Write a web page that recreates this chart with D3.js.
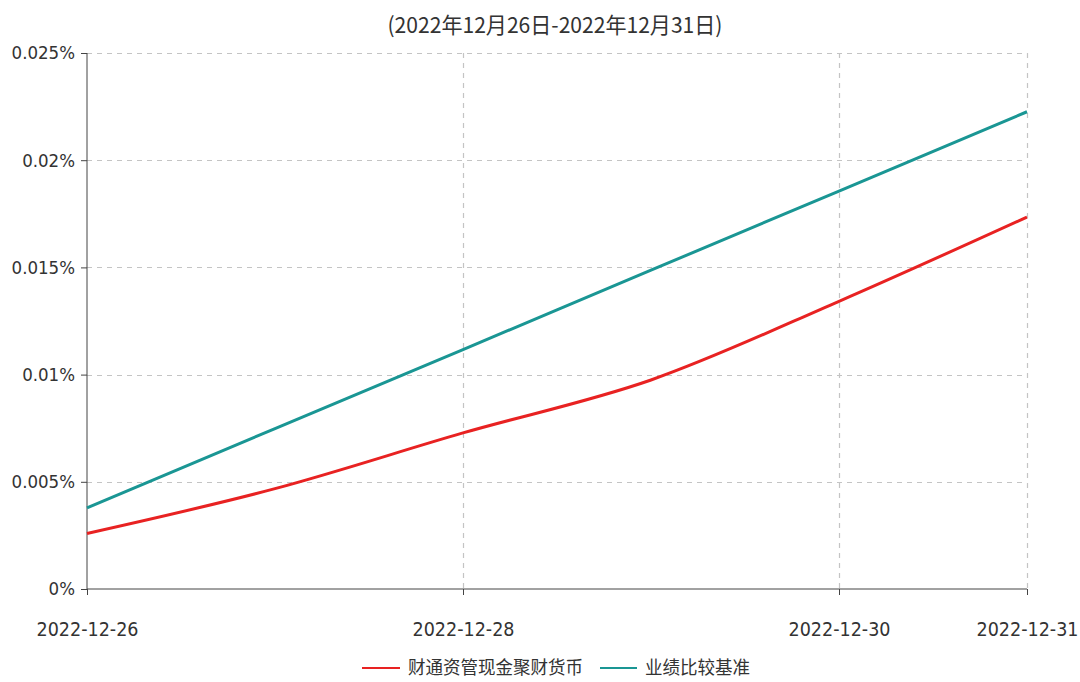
<!DOCTYPE html>
<html><head><meta charset="utf-8">
<script src="https://cdn.jsdelivr.net/npm/d3@7"></script>
<style>body{margin:0;background:#fff}svg{display:block}
.ax text{font-family:"DejaVu Sans Condensed","DejaVu Sans",sans-serif;font-size:18.5px;fill:#333}
.axx text{font-size:19.5px}
</style>
</head><body>
<svg id="c" width="1080" height="682"></svg>
<script>
const title = "(2022年12月26日-2022年12月31日)";
const dates = ["2022-12-26","2022-12-27","2022-12-28","2022-12-29","2022-12-30","2022-12-31"];
const fundName = "财通资管现金聚财货币";
const benchName = "业绩比较基准";
const fundValues = [0.00259, 0.00468, 0.00728, 0.00975, 0.01342, 0.01735];
const benchValues = [0.00378, 0.00748, 0.01117, 0.01487, 0.01856, 0.02226];
const xTickLabels = ["2022-12-26","2022-12-28","2022-12-30","2022-12-31"];
const yTicks = [0, 0.005, 0.01, 0.015, 0.02, 0.025];
const yTickLabels = ["0%","0.005%","0.01%","0.015%","0.02%","0.025%"];

const svg = d3.select("#c");
const parse = d3.timeParse("%Y-%m-%d");
const L = 87, R = 1027, T = 53, B = 589;
const x = d3.scaleTime().domain([parse(dates[0]), parse(dates[dates.length-1])]).range([L, R]);
const y = d3.scaleLinear().domain([0, 0.025]).range([B, T]);
const cjk = "'Noto Sans CJK SC', sans-serif";

// grid
const grid = svg.append("g").attr("stroke", "#c4c4c4").attr("stroke-width", 1.2).attr("stroke-dasharray", "5,5");
yTicks.slice(1).forEach(v => grid.append("line").attr("x1", L).attr("x2", R).attr("y1", Math.round(y(v))+0.5).attr("y2", Math.round(y(v))+0.5));
xTickLabels.slice(1).forEach(d => grid.append("line").attr("y1", T).attr("y2", B).attr("x1", Math.round(x(parse(d)))+0.5).attr("x2", Math.round(x(parse(d)))+0.5));

// axes
const yAxis = d3.axisLeft(y).tickValues(yTicks).tickFormat((d,i) => yTickLabels[i]).tickSize(6).tickPadding(6);
const gy = svg.append("g").attr("class", "ax").attr("transform", `translate(${L},0)`).call(yAxis);
gy.attr("font-family", null).attr("font-size", null);
gy.selectAll("line,path").attr("stroke", "#444");
gy.select(".domain").attr("d", `M0,${T}V${B}`);

const xAxis = d3.axisBottom(x).tickValues(xTickLabels.map(parse)).tickFormat(d3.timeFormat("%Y-%m-%d")).tickSize(6).tickPadding(27);
const gx = svg.append("g").attr("class", "ax axx").attr("transform", `translate(0,${B})`).call(xAxis);
gx.attr("font-family", null).attr("font-size", null);
gx.selectAll("line,path").attr("stroke", "#444");
gx.select(".domain").attr("d", `M${L},0H${R}`);

// lines
const line = d3.line().x((d,i) => x(parse(dates[i]))).y(d => y(d)).curve(d3.curveMonotoneX);
svg.append("path").datum(benchValues).attr("d", line).attr("fill", "none").attr("stroke", "#1a9694").attr("stroke-width", 3);
svg.append("path").datum(fundValues).attr("d", line).attr("fill", "none").attr("stroke", "#e82222").attr("stroke-width", 3);

// title
svg.append("text").attr("x", 555).attr("y", 33).attr("text-anchor", "middle")
  .attr("font-family", cjk).attr("font-size", 22).attr("fill", "#333")
  .attr("textLength", 335).attr("lengthAdjust", "spacingAndGlyphs").text(title);

// legend
const leg = svg.append("g").attr("font-family", cjk).attr("font-size", 18).attr("fill", "#333");
leg.append("line").attr("x1", 362).attr("x2", 400).attr("y1", 668).attr("y2", 668).attr("stroke", "#e82222").attr("stroke-width", 2);
leg.append("text").attr("x", 408).attr("y", 674).attr("textLength", 175).attr("lengthAdjust", "spacingAndGlyphs").text(fundName);
leg.append("line").attr("x1", 600).attr("x2", 637).attr("y1", 668).attr("y2", 668).attr("stroke", "#1a9694").attr("stroke-width", 2);
leg.append("text").attr("x", 645).attr("y", 674).attr("textLength", 105).attr("lengthAdjust", "spacingAndGlyphs").text(benchName);
</script>
</body></html>
